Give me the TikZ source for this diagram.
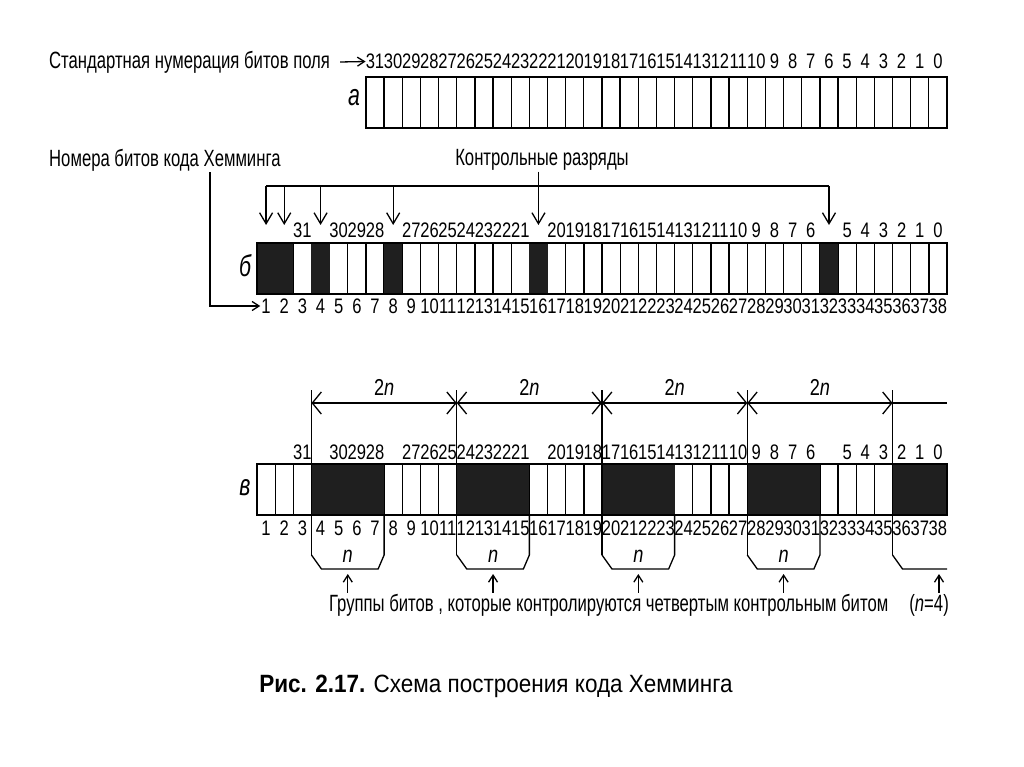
\documentclass[tikz,border=0pt]{standalone}
\usepackage{fontspec}
\setmainfont{Liberation Sans}[FakeStretch=0.9]
\newfontfamily\uzkij{Liberation Sans}[FakeStretch=0.71]
\newfontfamily\cifry{Liberation Sans}[FakeStretch=0.79]
\usetikzlibrary{arrows.meta,calc}

\begin{document}
\begin{tikzpicture}[
    x=1pt, y=-1pt,
    cell/.style = {draw, line width=1.3pt, minimum width=18.16pt, minimum height=51pt,
                   inner sep=0pt, outer sep=0pt},
    num/.style  = {font=\cifry\fontsize{21}{21}\selectfont, inner sep=0pt},
    txt/.style  = {font=\uzkij\fontsize{23.5}{24}\selectfont, inner sep=1pt},
    bukva/.style = {font=\uzkij\fontsize{30}{30}\selectfont\itshape, inner sep=0pt},
    ramka/.style = {line width=2.2pt},
    linia/.style = {line width=1.3pt},
    strelka/.style = {linia, -{Straight Barb[length=11pt,width=13pt,line width=1.3pt]}},
    malaja/.style  = {linia, -{Straight Barb[length=7pt,width=9pt,line width=1.3pt]}},
    razmer/.style  = {linia, {Straight Barb[length=9pt,width=22pt,line width=1.3pt]}-{Straight Barb[length=9pt,width=22pt,line width=1.3pt]}},
    tyomnaja/.style = {fill=black!88},
  ]
  \useasboundingbox (0,0) rectangle (1024,767);

  % Строка а: стандартная нумерация
  \foreach \j in {0,...,31} {
    \pgfmathtruncatemacro\lab{31-\j}
    \node[cell] (a\j) at ({365.9+(\j+0.5)*18.158}, 102.5) {};
    \node[num] (at\j) at ([yshift=15.5pt]a\j.north) {\lab};
  }
  \draw[ramka] (a0.north west) rectangle (a31.south east);
  \node[bukva] (la) at (354,98) {а};
  \node[txt, anchor=west] (std) at (48,62) {Стандартная нумерация битов поля};
  \draw[malaja] (std.east) ++(9,0) -- (at0.west);

  % Строка б: код Хемминга
  \foreach \k in {1,...,38} {
    \node[cell] (b\k) at ({257+(\k-0.5)*18.158}, 268.5) {};
    \node[num] (bn\k) at ([yshift=-12pt]b\k.south) {\k};
  }
  \foreach \c in {1,2,4,8,16,32}
    \fill[tyomnaja] (b\c.north west) rectangle (b\c.south east);
  \draw[ramka] (b1.north west) rectangle (b38.south east);
  \foreach \k [count=\n from 0] in {3,5,6,7,9,10,11,12,13,14,15,17,18,19,20,21,22,23,
                                     24,25,26,27,28,29,30,31,33,34,35,36,37,38} {
    \pgfmathtruncatemacro\lab{31-\n}
    \node[num] (bt\k) at ([yshift=13pt]b\k.north) {\lab};
  }
  \node[bukva] (lb) at (245,266) {б};

  % Контрольные разряды
  \node[txt] (kontrol) at (542,160) {Контрольные разряды};
  \coordinate (shina) at (0,186);
  \coordinate (konec) at (0,225);
  \draw[linia] (b1 |- shina) -- (b32 |- shina);
  \foreach \c in {1,2,4,8,32}
    \draw[strelka] (b\c |- shina) -- (b\c |- konec);
  \draw[strelka] (kontrol.south -| b16) -- (b16 |- konec);

  % Номера битов кода Хемминга
  \node[txt, anchor=west] (hem) at (48,160) {Номера битов кода Хемминга};
  \coordinate (hx) at (210,0);
  \draw[malaja] (hem.south -| hx) -- (hx |- bn1) -- ([xshift=-1pt]bn1.west);

  % Строка в: группы битов
  \foreach \k in {1,...,38} {
    \node[cell] (c\k) at ({257+(\k-0.5)*18.158}, 489.5) {};
    \node[num] (cn\k) at ([yshift=-13pt]c\k.south) {\k};
  }
  \foreach \s/\e in {4/7,12/15,20/23,28/31,36/38}
    \fill[tyomnaja] (c\s.north west) rectangle (c\e.south east);
  \draw[ramka] (c1.north west) rectangle (c38.south east);
  \foreach \k [count=\n from 0] in {3,5,6,7,9,10,11,12,13,14,15,17,18,19,20,21,22,23,
                                     24,25,26,27,28,29,30,31,33,34,35,36,37,38} {
    \pgfmathtruncatemacro\lab{31-\n}
    \node[num] (ct\k) at ([yshift=12pt]c\k.north) {\lab};
  }
  \node[bukva] (lv) at (245,488) {в};

  % Размеры 2n
  \coordinate (verh) at (0,390);
  \coordinate (razm) at (0,403);
  \coordinate (izlom) at (0,555);
  \coordinate (niz) at (0,569);
  \coordinate (yn) at (0,556);
  \coordinate (ystr) at (0,574);
  \foreach \s in {4,12,20,28,36}
    \draw[linia] (c\s.south west |- verh) -- (c\s.south west |- izlom);
  \foreach \s/\t in {4/12,12/20,20/28,28/36}
    \draw[razmer] (c\s.south west |- razm) -- (c\t.south west |- razm)
      node[num, font=\cifry\fontsize{23}{23}\selectfont, midway, above=7pt] (dn\s) {2\textit{n}};
  \draw[razmer, -] (c36.south west |- razm) -- (c38.south east |- razm);

  % Скобки групп
  \node[txt, anchor=east] (grp) at (950,605)
    {Группы битов , которые контролируются четвертым контрольным битом\hspace{0.9em}(\textit{n}=4)};
  \foreach \s/\e in {4/7,12/15,20/23,28/31} {
    \draw[linia] (c\s.south west |- izlom) -- ++(10,14)
      -- ($(c\e.south east |- niz)+(-6,0)$) -- (c\e.south east |- izlom) -- (c\e.south east);
    \path (c\s.south west) -- (c\e.south east) coordinate[midway] (m\s);
    \node[num, font=\cifry\fontsize{23}{23}\selectfont] (gn\s) at (m\s |- yn) {\textit{n}};
    \draw[malaja] (m\s |- grp.north) -- (m\s |- ystr);
  }
  \draw[linia] (c36.south west |- izlom) -- ++(10,14) -- (c38.south east |- niz);
  \coordinate (posl) at ([xshift=-8pt]c38.south east);
  \draw[malaja] (posl |- grp.north) -- (posl |- ystr);

  % Подпись
  \node[font=\fontsize{25}{25}\selectfont, inner sep=0pt] (podpis) at (496,686)
    {\textbf{Рис. 2.17.} Схема построения кода Хемминга};
\end{tikzpicture}
\end{document}
